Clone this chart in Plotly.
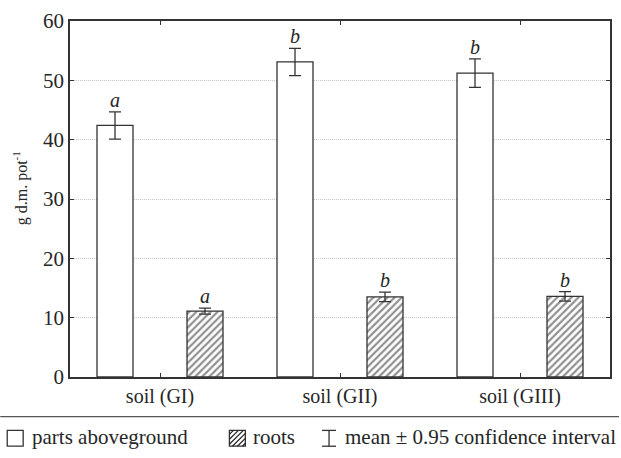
import plotly.graph_objects as go

# Dry-matter yield per pot for three soils
categories = ["soil (GI)", "soil (GII)", "soil (GIII)"]
above_mean = [42.4, 53.1, 51.2]
above_ci = [2.3, 2.3, 2.4]
above_letters = ["a", "b", "b"]
roots_mean = [11.1, 13.5, 13.6]
roots_ci = [0.5, 0.8, 0.8]
roots_letters = ["a", "b", "b"]
y_ticks = [0, 10, 20, 30, 40, 50, 60]

W, H = 621, 458
ML, MR, MT, MB = 70, 9, 17, 81
PW, PH = W - ML - MR, H - MT - MB

FONT = "Liberation Serif"
INK = "#262626"
EDGE = "#333333"


def px(x):
    return (x - ML) / PW


def py(y):
    return (H - MB - y) / PH


xpos = list(range(len(categories)))
BW = 0.2
SHIFT = 0.25

fig = go.Figure()
fig.add_trace(go.Bar(
    x=xpos, y=above_mean, width=BW, offset=-SHIFT - BW / 2,
    marker=dict(color="white", line=dict(color=EDGE, width=1.3)),
    error_y=dict(type="data", array=above_ci, color=EDGE, thickness=1.3, width=6),
    showlegend=False, name="parts aboveground",
))
fig.add_trace(go.Bar(
    x=xpos, y=roots_mean, width=BW, offset=SHIFT - BW / 2,
    marker=dict(color="white", line=dict(color=EDGE, width=1.3),
                pattern=dict(shape="/", fgcolor="#222222", bgcolor="white",
                             size=5, solidity=0.45)),
    error_y=dict(type="data", array=roots_ci, color=EDGE, thickness=1.3, width=6),
    showlegend=False, name="roots",
))

# significance letters above the confidence intervals
fig.add_trace(go.Scatter(
    x=[i - SHIFT for i in xpos] + [i + SHIFT for i in xpos],
    y=[m + c for m, c in zip(above_mean, above_ci)] + [m + c for m, c in zip(roots_mean, roots_ci)],
    text=[f"<i>{t}</i>" for t in above_letters + roots_letters],
    mode="text", textposition="top center",
    textfont=dict(family=FONT, size=20, color=INK),
    showlegend=False, hoverinfo="skip", cliponaxis=False,
))

fig.update_layout(
    width=W, height=H,
    margin=dict(l=ML, r=MR, t=MT, b=MB),
    plot_bgcolor="white", paper_bgcolor="white",
    barmode="overlay",
    font=dict(family=FONT, size=20, color=INK),
    showlegend=False,
)
fig.update_xaxes(
    range=[-0.5, 2.5], tickvals=xpos, ticktext=categories,
    showgrid=False, zeroline=False,
    showline=True, linecolor=EDGE, linewidth=1.5, mirror="allticks",
    ticks="inside", ticklen=4, tickcolor=EDGE,
    tickfont=dict(family=FONT, size=20, color=INK),
)
fig.update_yaxes(
    range=[0, 60], tickvals=y_ticks,
    showgrid=True, gridcolor="#c4c4c4", griddash="1px,1px", gridwidth=1,
    zeroline=False,
    showline=True, linecolor=EDGE, linewidth=1.5, mirror="allticks",
    ticks="inside", ticklen=4, tickcolor=EDGE,
    tickfont=dict(family=FONT, size=21, color=INK),
)

# axis title
fig.add_annotation(
    xref="paper", yref="paper", x=px(20), y=py(186),
    xanchor="center", yanchor="middle",
    text="g d.m. pot<sup>-1</sup>", textangle=-90, showarrow=False,
    font=dict(family=FONT, size=16, color=INK),
)

# legend strip below the chart
shapes = [
    dict(type="line", xref="paper", yref="paper",
         x0=px(0), x1=px(W), y0=py(417), y1=py(417),
         line=dict(color="#555555", width=1.3)),
    # open box
    dict(type="rect", xref="paper", yref="paper",
         x0=px(7), x1=px(23), y0=py(447), y1=py(431),
         line=dict(color=EDGE, width=1.3), fillcolor="white"),
    # hatched box
    dict(type="rect", xref="paper", yref="paper",
         x0=px(230), x1=px(246), y0=py(447), y1=py(431),
         line=dict(color=EDGE, width=1.3), fillcolor="white"),
]
hatch = []
x0, x1, yt, yb = 230, 246, 431, 447
for k in range(-12, 16, 5):
    ax, ay, bx, by = x0 + k, yb, x0 + k + 16, yt
    if ax < x0:
        ay -= (x0 - ax); ax = x0
    if bx > x1:
        by += (bx - x1); bx = x1
    if bx - ax > 1:
        hatch.append(f"M{px(ax)},{py(ay)} L{px(bx)},{py(by)}")
shapes.append(dict(type="path", xref="paper", yref="paper", path=" ".join(hatch),
                   line=dict(color="#222222", width=1.2)))
# error-bar glyph
ex, et, eb = 330, 431, 447
shapes += [
    dict(type="line", xref="paper", yref="paper", x0=px(ex), x1=px(ex), y0=py(eb), y1=py(et),
         line=dict(color=EDGE, width=1.3)),
    dict(type="line", xref="paper", yref="paper", x0=px(ex - 7), x1=px(ex + 7), y0=py(et), y1=py(et),
         line=dict(color=EDGE, width=1.3)),
    dict(type="line", xref="paper", yref="paper", x0=px(ex - 7), x1=px(ex + 7), y0=py(eb), y1=py(eb),
         line=dict(color=EDGE, width=1.3)),
]
fig.update_layout(shapes=shapes)

for tx, label in [(30, "parts aboveground"), (252, "roots"), (344, "mean ± 0.95 confidence interval")]:
    fig.add_annotation(
        xref="paper", yref="paper", x=px(tx), y=py(438), xanchor="left", yanchor="middle",
        text=label, showarrow=False, font=dict(family=FONT, size=21, color=INK),
    )

fig.write_html("out.html")
